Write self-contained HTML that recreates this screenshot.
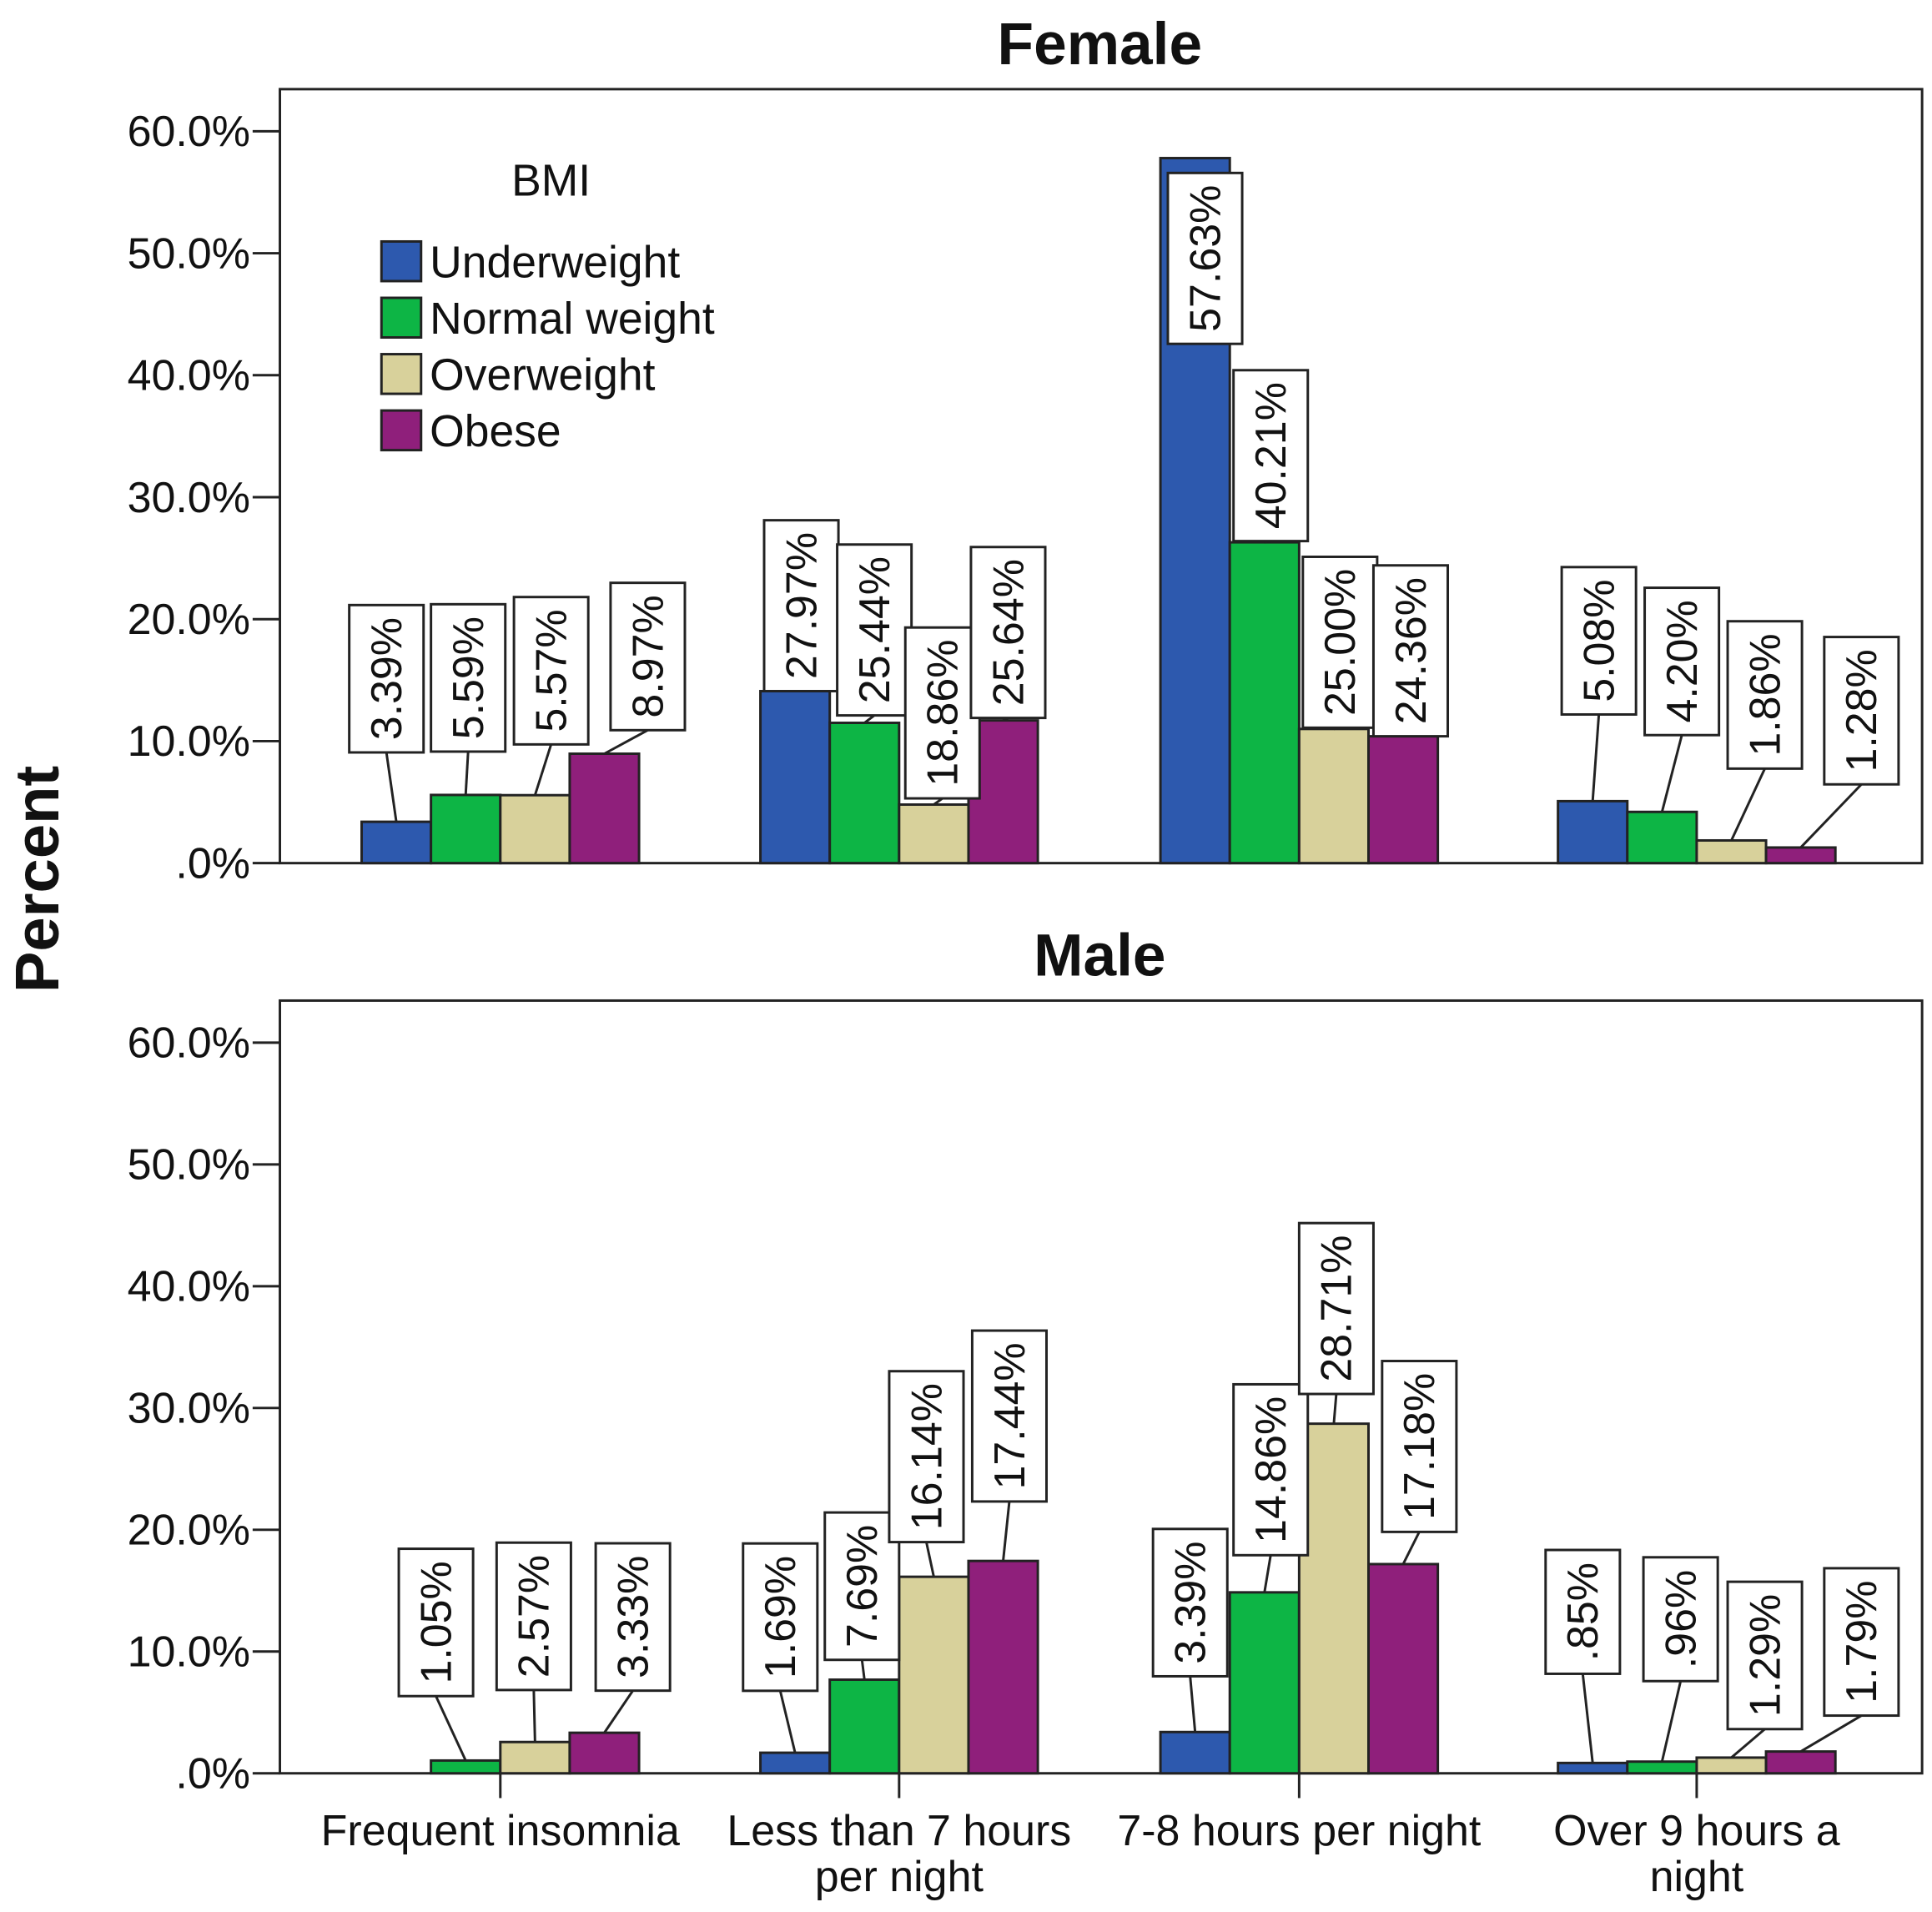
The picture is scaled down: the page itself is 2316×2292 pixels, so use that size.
<!DOCTYPE html>
<html><head><meta charset="utf-8"><style>
html,body{margin:0;padding:0;background:#fff}
svg{display:block}
text{font-family:"Liberation Sans",Arial,sans-serif;fill:#111}
</style></head><body>
<svg id="chart" width="2316" height="2292" viewBox="0 0 1560 1544" preserveAspectRatio="none" xmlns="http://www.w3.org/2000/svg">
<rect x="0" y="0" width="1560" height="1544" fill="#fff"/>
<text x="0" y="0" transform="translate(47,710) rotate(-90)" text-anchor="middle" font-size="50" font-weight="bold">Percent</text>
<g id="legend">
<text x="445" y="158" text-anchor="middle" font-size="36">BMI</text>
</g>
</svg>
<script>
const categories = ["Frequent insomnia", "Less than 7 hours|per night", "7-8 hours per night", "Over 9 hours a|night"];
const seriesNames = ["Underweight", "Normal weight", "Overweight", "Obese"];
const yTicks = [0, 10, 20, 30, 40, 50, 60];
const yTickLabels = [".0%", "10.0%", "20.0%", "30.0%", "40.0%", "50.0%", "60.0%"];
// bar heights (percent) per category, series order UW, NW, OW, OB
const femaleValues = [[3.39, 5.59, 5.57, 8.97], [14.1, 11.5, 4.8, 11.7], [57.8, 26.3, 11.0, 10.4], [5.08, 4.20, 1.86, 1.28]];
const femaleLabels = [["3.39%", "5.59%", "5.57%", "8.97%"], ["27.97%", "25.44%", "18.86%", "25.64%"], ["57.63%", "40.21%", "25.00%", "24.36%"], ["5.08%", "4.20%", "1.86%", "1.28%"]];
const maleValues = [[0, 1.05, 2.57, 3.33], [1.69, 7.69, 16.14, 17.44], [3.39, 14.86, 28.71, 17.18], [0.85, 0.96, 1.29, 1.79]];
const maleLabels = [[null, "1.05%", "2.57%", "3.33%"], ["1.69%", "7.69%", "16.14%", "17.44%"], ["3.39%", "14.86%", "28.71%", "17.18%"], [".85%", ".96%", "1.29%", "1.79%"]];

// layout (label box offsets: dx from bar center, gap above bar top)
const colors = ["#2d59ae", "#0db545", "#d8d19b", "#8f1f7b"];
const femaleOffsets = [[[-8,56],[2,35],[13,41],[35,19]],[[5,0],[8,6],[7,5],[4,2]],[[8,-150],[5,1],[5,1],[6,0]],[[5,70],[16,62],[27,58],[49,51]]];
const maleOffsets = [[[0,0],[-24,52],[-1,42],[23,34]],[[-12,50],[-2,16],[-6,28],[5,48]],[[-4,45],[5,30],[2,24],[13,26]],[[-8,72],[15,65],[27,23],[49,29]]];
const NS = "http://www.w3.org/2000/svg";
const svg = document.getElementById('chart');
const plotL = 226, plotR = 1552;
const catCenters = [404, 726, 1049, 1370];
const barW = 56;
function mk(tag, attrs, parent) {
  const e = document.createElementNS(NS, tag);
  for (const k in attrs) e.setAttribute(k, attrs[k]);
  (parent || svg).appendChild(e);
  return e;
}
function xBar(ci, si) { return catCenters[ci] - 2 * barW + si * barW; }

function panel(name, title, top, bottom, zeroY, sixtyY, values, labels, offsets, showX) {
  const yScale = v => zeroY - (v / 60) * (zeroY - sixtyY);
  const g = mk('g', {});
  
  
  const t = mk('text', {x: 888, y: top - 20, 'text-anchor': 'middle', 'font-size': 48, 'font-weight': 'bold'}, g);
  
  
  t.textContent = title;
  const fr = mk('rect', {x: plotL, y: top, width: plotR - plotL, height: zeroY - top, fill: 'none', stroke: '#222', 'stroke-width': 2}, g);
  
  
  yTicks.forEach((v, i) => {
    const y = yScale(v);
    const tk = mk('line', {x1: 204, x2: plotL, y1: y, y2: y, stroke: '#222', 'stroke-width': 2}, g);
    
    
    const tl = mk('text', {x: 202, y: y + 12, 'text-anchor': 'end', 'font-size': 35}, g);
    
    
    tl.textContent = yTickLabels[i];
  });
  values.forEach((grp, ci) => {
    grp.forEach((v, si) => {
      const x = xBar(ci, si);
      const yt = yScale(v);
      if (v > 0) {
        const b = mk('rect', {x: x, y: yt, width: barW, height: zeroY - yt, fill: colors[si], stroke: '#222', 'stroke-width': 2}, g);
        
        
      }
    });
  });
  values.forEach((grp, ci) => {
    grp.forEach((v, si) => {
      const lab = labels[ci][si];
      if (!lab) return;
      const cx = xBar(ci, si) + barW / 2;
      const yt = yScale(v);
      const off = offsets[ci][si];
      const bx = cx + off[0];
      const bb = yt - off[1];
      const h = 19 * lab.length + 24;
      if (off[1] > 0) {
        const ln = mk('line', {x1: cx, y1: yt, x2: bx, y2: bb, stroke: '#222', 'stroke-width': 2}, g);
        
        
      }
      const box = mk('rect', {x: bx - 30, y: bb - h, width: 60, height: h, fill: '#fff', stroke: '#222', 'stroke-width': 2}, g);
      
      
      const tx = mk('text', {x: 0, y: 0, transform: `translate(${bx + 12},${bb - h / 2}) rotate(-90)`, 'text-anchor': 'middle', 'font-size': 35}, g);
      
      
      tx.textContent = lab;
    });
  });
  if (showX) {
    categories.forEach((c, ci) => {
      const tk = mk('line', {x1: catCenters[ci], x2: catCenters[ci], y1: zeroY, y2: zeroY + 20, stroke: '#222', 'stroke-width': 2}, g);
      
      
      c.split('|').forEach((line, li) => {
        const tl = mk('text', {x: catCenters[ci], y: zeroY + 58 + li * 37, 'text-anchor': 'middle', 'font-size': 35}, g);
        
        
        tl.textContent = line;
      });
    });
  }
}
panel('female', 'Female', 72, 697, 697, 106, femaleValues, femaleLabels, femaleOffsets, false);
panel('male', 'Male', 808, 1432, 1432, 842, maleValues, maleLabels, maleOffsets, true);

const lg = document.getElementById('legend');
svg.appendChild(lg);
seriesNames.forEach((n, i) => {
  const y = 195 + i * 45.5;
  const sw = mk('rect', {x: 308, y: y, width: 32, height: 32, fill: colors[i], stroke: '#222', 'stroke-width': 2}, lg);
  
  
  const t = mk('text', {x: 347, y: y + 29, 'font-size': 36}, lg);
  
  
  t.textContent = n;
});
</script>
</body></html>
